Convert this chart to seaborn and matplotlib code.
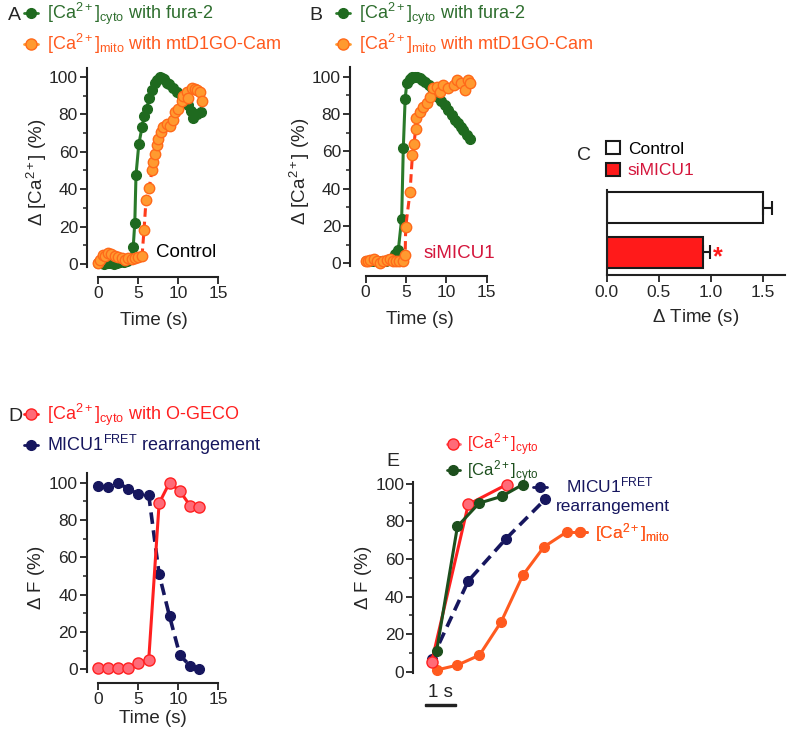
import matplotlib
matplotlib.use('Agg')
import matplotlib.pyplot as plt
from matplotlib.lines import Line2D
from matplotlib.patches import Patch
from matplotlib.ticker import MultipleLocator
from mpl_toolkits.axes_grid1.anchored_artists import AnchoredSizeBar
import seaborn as sns

# panel A, control cells (time in s, % of max)
a_cyto_t = [0.0, 0.4, 0.8, 1.2, 1.6, 2.0, 2.4, 2.8, 3.2, 3.6, 4.0, 4.4, 4.6, 4.75, 5.1, 5.5,
            5.75, 6.1, 6.4, 6.75, 7.1, 7.4, 7.7, 8.0, 8.3, 8.6, 8.9, 9.4, 9.9, 10.5, 11.2,
            11.6, 11.9, 12.4, 12.9]
a_cyto = [0.5, 0.3, 0.2, 0.5, 0.3, 0.2, 0.5, 1.0, 1.2, 1.5, 2.5, 9, 22, 47.6, 64, 73,
          79, 83, 89, 93, 97, 98.5, 100, 99.5, 99, 97, 96, 94, 92, 89, 85,
          82, 78, 80, 81]
a_mito_t = [0.0, 0.3, 0.6, 0.9, 1.25, 1.6, 2.1, 2.5, 3.0, 3.4, 3.75, 4.2, 4.6, 5.0, 5.5,
            5.75, 6.0, 6.4, 6.75, 6.9, 7.1, 7.4, 7.5, 7.9, 8.1, 8.6, 9.0, 9.4, 9.6, 10.0,
            10.5, 10.6, 11.1, 11.25, 11.7, 12.1, 12.4, 12.8, 13.0]
a_mito = [0.5, 2, 5, 4, 6, 5.5, 4, 3.5, 3, 2, 3, 2.5, 3, 3.5, 4,
          18, 34, 40.6, 50, 54.5, 59, 63.6, 67, 70.6, 73, 75, 74, 77, 81, 83,
          87, 90, 92, 89, 94, 93.5, 93, 92, 87]

# panel B, siMICU1 cells
b_cyto_t = [0.0, 0.5, 1.0, 1.5, 2.0, 2.5, 3.0, 3.6, 4.05, 4.47, 4.67, 4.9, 5.1, 5.5, 5.8,
            6.1, 6.4, 6.7, 7.0, 7.4, 7.8, 8.2, 8.6, 9.0, 9.4, 9.8, 10.2, 10.7, 11.1, 11.5,
            11.8, 12.1, 12.5, 12.9]
b_cyto = [1, 1, 1.5, 1, 1, 1.5, 2.5, 5, 7, 24, 61.6, 88, 96.5, 99, 100,
          100, 100, 99.5, 98.5, 97, 95.5, 94, 91.5, 89, 87, 85, 82, 79.5, 77, 75,
          73, 71.4, 69, 66.5]
b_mito_t = [0.0, 0.3, 0.6, 1.0, 1.4, 1.8, 2.2, 2.6, 3.0, 3.4, 3.8, 4.2, 4.6, 4.9, 4.97,
            5.5, 5.8, 6.0, 6.2, 6.3, 6.75, 7.15, 7.6, 8.0, 8.4, 8.8, 9.2, 9.6, 10.25, 10.9,
            11.3, 11.8, 12.3, 12.7, 12.9]
b_mito = [1.5, 1, 2, 2.5, 1, 0, 1.5, 2, 2.5, 1, 1.5, 1, 1.5, 4.4, 19.6,
          38, 58, 64, 72, 77.7, 81, 84, 85.7, 89, 93.8, 94.6, 92, 95.5, 93.8, 95.5,
          98, 96.5, 92.9, 98, 96.5]

# panel C, delay between cyto and mito rise
c_groups = ['Control', 'siMICU1']
c_mean = [1.50, 0.93]
c_sem = [0.09, 0.06]

# panel D, O-GECO vs MICU1 FRET
d_t = [0, 1.25, 2.5, 3.75, 5.0, 6.3, 7.6, 8.9, 10.2, 11.5, 12.6]
d_fret = [98, 97.5, 100, 96.5, 94, 93.5, 51, 28.5, 7.5, 1.8, 0]
d_cyto = [0.5, 0.5, 0.5, 0.5, 3.6, 5, 89, 100, 95.5, 87.5, 87]

# panel E, rising phases overlaid (s from onset)
e_slow_t = [0, 1.18, 2.42]
e_ogeco = [5.3, 89, 99.6]
e_fret_t = [0, 1.18, 2.4, 3.66]
e_fret = [6.5, 48.3, 70.8, 91.7]
e_fura_t = [0.16, 0.83, 1.53, 2.26, 2.94]
e_fura = [11.2, 77.3, 89.7, 93.3, 99.6]
e_mito_t = [0.16, 0.83, 1.54, 2.24, 2.94, 3.62, 4.35]
e_mito = [0.9, 3.5, 8.8, 26.5, 51.3, 66.4, 74.3]

GREEN, GREEN_LN, GREEN_TX = '#1f6a1f', '#2a7a2a', '#2e6e2e'
OR_FACE, OR_EDGE, OR_LN, OR_TX = '#ff9a30', '#ff6a1a', '#ff3c1c', '#ff5a1f'
RED, PINK = '#ff2020', '#ff6b78'
NAVY = '#16165e'
CRIMSON = '#d4163c'
BAR_RED = '#ff1a1a'
E_GREEN, E_ORANGE = '#1d4f1d', '#ff5a1f'

sns.set_style('ticks')
plt.rcParams['font.family'] = ['Liberation Sans', 'DejaVu Sans']
plt.rcParams['mathtext.fontset'] = 'custom'
plt.rcParams['mathtext.rm'] = 'Liberation Sans'
plt.rcParams['mathtext.it'] = 'Liberation Sans:italic'
plt.rcParams['mathtext.bf'] = 'Liberation Sans:bold'
plt.rcParams['mathtext.sf'] = 'Liberation Sans'

TICK_FS, LAB_FS, LEG_FS = 12.5, 13.5, 13

fig = plt.figure(figsize=(7.87, 7.35), dpi=100)
W, H = 787, 735


def px_axes(x0, x1, y0, y1):
    return fig.add_axes([x0 / W, 1 - y1 / H, (x1 - x0) / W, (y1 - y0) / H])


def prism(ax, xlim, ylim, ybounds, xbounds=None):
    ax.set_xlim(*xlim)
    ax.set_ylim(*ylim)
    sns.despine(ax=ax)
    ax.spines['left'].set_bounds(*ybounds)
    if xbounds:
        ax.spines['bottom'].set_bounds(*xbounds)
    for s in ax.spines.values():
        s.set_linewidth(1.5)
        s.set_color('#222222')
    ax.tick_params(direction='out', length=5, width=1.3, labelsize=TICK_FS, color='#222222', pad=1.5)
    ax.tick_params(which='minor', direction='out', length=3, width=1.1, color='#222222')
    ax.set_facecolor('none')


def trace(ax, t, y, line, face, edge, ms, ls='-', lw=2.2, mew=1.0):
    sns.lineplot(x=t, y=y, ax=ax, color=line, linestyle=ls, linewidth=lw, marker='o',
                 markersize=ms, markerfacecolor=face, markeredgecolor=edge,
                 markeredgewidth=mew, estimator=None, sort=False, clip_on=False)


def time_axes(ax, pad):
    ax.set_xticks([0, 5, 10, 15])
    ax.set_yticks(range(0, 101, 20))
    ax.yaxis.set_minor_locator(MultipleLocator(10))
    ax.set_xlabel('Time (s)', fontsize=LAB_FS, labelpad=pad)


def handle(line, face, edge, ms, ls='-'):
    return Line2D([], [], color=line, linestyle=ls, linewidth=2, marker='o', markersize=ms,
                  markerfacecolor=face, markeredgecolor=edge)


cyto_lbl = r'[Ca$^{2+}$]$_{\rm cyto}$'
mito_lbl = r'[Ca$^{2+}$]$_{\rm mito}$'

# ---------- A ----------
axA = px_axes(87, 220, 68, 277)
prism(axA, (-1.375, 15.25), (-7, 104.8), (-1.5, 104.8), (0, 15))
trace(axA, a_cyto_t, a_cyto, GREEN_LN, GREEN, GREEN, 7)
trace(axA, a_mito_t, a_mito, OR_LN, OR_FACE, OR_EDGE, 7.5, ls=(0, (2.8, 1.6)))
time_axes(axA, 8)
axA.set_ylabel(r'$\Delta$ [Ca$^{2+}$] (%)', fontsize=LAB_FS, labelpad=0)
axA.text(7.3, 6, 'Control', fontsize=LAB_FS, va='center', color='black')

# ---------- B ----------
axB = px_axes(350, 490, 67, 276)
prism(axB, (-1.93, 15.41), (-6.8, 105.2), (-1.5, 105.2), (0, 15))
trace(axB, b_cyto_t, b_cyto, GREEN_LN, GREEN, GREEN, 7)
trace(axB, b_mito_t, b_mito, OR_LN, OR_FACE, OR_EDGE, 7.5, ls=(0, (2.8, 1.6)))
time_axes(axB, 8)
axB.set_ylabel(r'$\Delta$ [Ca$^{2+}$] (%)', fontsize=LAB_FS, labelpad=0)
axB.text(7.15, 5.5, 'siMICU1', fontsize=LAB_FS, va='center', color=CRIMSON)

for ax, x0 in [(axA, 24), (axB, 336)]:
    ax.legend([handle(GREEN_LN, GREEN, GREEN, 7), handle(OR_FACE, OR_FACE, OR_EDGE, 8)],
              [cyto_lbl + ' with fura-2', mito_lbl + ' with mtD1GO-Cam'],
              loc='upper left', bbox_to_anchor=(x0 / W, 1 - 1 / H),
              bbox_transform=fig.transFigure, frameon=False, fontsize=LEG_FS,
              handlelength=0.8, handletextpad=0.5, labelspacing=0.25, borderpad=0,
              borderaxespad=0, labelcolor=[GREEN_TX, OR_TX])

# ---------- C ----------
axC = px_axes(606.7, 785, 190, 275)
sns.barplot(x=c_mean, y=c_groups, orient='h', hue=c_groups, palette=['white', BAR_RED],
            saturation=1, width=0.7, edgecolor='#1a1a1a', linewidth=1.5, ax=axC, legend=False)
axC.errorbar(c_mean, [0, 1], xerr=[[0, 0], c_sem], fmt='none', ecolor='#1a1a1a',
             elinewidth=1.5, capsize=5, capthick=1.5)
axC.set_xlim(0, 1.715)
axC.set_ylim(1.51, -0.4)
sns.despine(ax=axC)
for s in axC.spines.values():
    s.set_linewidth(1.5)
    s.set_color('#222222')
axC.set_yticks([])
axC.set_ylabel('')
axC.set_xticks([0, 0.5, 1.0, 1.5])
axC.set_xticklabels(['0.0', '0.5', '1.0', '1.5'])
axC.tick_params(direction='out', length=5, width=1.3, labelsize=TICK_FS, color='#222222', pad=2)
axC.set_xlabel(r'$\Delta$ Time (s)', fontsize=LAB_FS, labelpad=5)
axC.text(c_mean[1] + c_sem[1] + 0.03, 1.12, '*', color=BAR_RED, fontsize=18,
         fontweight='bold', va='center', ha='left')
axC.legend([Patch(facecolor='white', edgecolor='#1a1a1a', linewidth=1.5),
            Patch(facecolor=BAR_RED, edgecolor='#1a1a1a', linewidth=1.5)],
           c_groups, loc='upper left', bbox_to_anchor=(606 / W, 1 - 141 / H),
           bbox_transform=fig.transFigure, frameon=False, fontsize=12.5,
           handlelength=0.8, handleheight=0.8, handletextpad=0.45, labelspacing=0.35,
           borderpad=0, borderaxespad=0, labelcolor=['black', CRIMSON])

# ---------- D ----------
axD = px_axes(86.7, 220, 473, 683)
prism(axD, (-1.45, 15.21), (-7.34, 105.2), (-1.5, 105.2), (0, 15))
trace(axD, d_t, d_fret, NAVY, NAVY, NAVY, 7, ls=(0, (3.2, 1.8)), lw=2.6)
trace(axD, d_t, d_cyto, RED, PINK, RED, 8, lw=2.2)
time_axes(axD, 2)
axD.set_ylabel(r'$\Delta$ F (%)', fontsize=LAB_FS, labelpad=1)
axD.legend([handle(RED, PINK, RED, 8), handle(NAVY, NAVY, NAVY, 7)],
           [cyto_lbl + ' with O-GECO', r'MICU1$^{\rm FRET}$ rearrangement'],
           loc='upper left', bbox_to_anchor=(24 / W, 1 - 402 / H),
           bbox_transform=fig.transFigure, frameon=False, fontsize=LEG_FS,
           handlelength=0.8, handletextpad=0.5, labelspacing=0.25, borderpad=0,
           borderaxespad=0, labelcolor=[RED, NAVY])

# ---------- E ----------
axE = px_axes(413.3, 600, 481.7, 673.3)
prism(axE, (-0.594, 5.43), (-0.85, 101.1), (-0.85, 101.1))
axE.spines['bottom'].set_visible(False)
axE.set_xticks([])
axE.set_yticks(range(0, 101, 20))
axE.yaxis.set_minor_locator(MultipleLocator(10))
axE.set_ylabel(r'$\Delta$ F (%)', fontsize=LAB_FS, labelpad=1)
trace(axE, e_fret_t, e_fret, NAVY, NAVY, NAVY, 7, ls=(0, (3.2, 1.8)), lw=2.6)
trace(axE, e_mito_t, e_mito, E_ORANGE, E_ORANGE, E_ORANGE, 7, lw=2.2)
trace(axE, e_slow_t, e_ogeco, RED, PINK, RED, 8, lw=2.2)
trace(axE, e_fura_t, e_fura, E_GREEN, E_GREEN, E_GREEN, 7, lw=2.2)

scalebar = AnchoredSizeBar(axE.transData, 1, '1 s', loc='lower left',
                           bbox_to_anchor=(-0.22, -18.5), bbox_transform=axE.transData,
                           pad=0, borderpad=0, sep=2, frameon=False, label_top=True,
                           size_vertical=1.2, color='#222222',
                           fontproperties={'size': LAB_FS})
axE.add_artist(scalebar)

# in-plot series labels (GraphPad style)
cyto_tag = axE.legend([handle(PINK, PINK, RED, 8), handle(E_GREEN, E_GREEN, E_GREEN, 7)],
                      [cyto_lbl, cyto_lbl], loc='center left', bbox_to_anchor=(0.48, 113.7),
                      bbox_transform=axE.transData, frameon=False, fontsize=12,
                      handlelength=0.8, handletextpad=0.45, labelspacing=0.0, borderpad=0,
                      borderaxespad=0, labelcolor=[RED, E_GREEN])
axE.add_artist(cyto_tag)
tags = [
    (3.27, 99.0, r'MICU1$^{\rm FRET}$', NAVY, handle(NAVY, NAVY, NAVY, 7), 1.1),
    (4.56, 74.3, mito_lbl, E_ORANGE, handle(E_ORANGE, E_ORANGE, E_ORANGE, 7), 0.45),
]
for x, y, lbl, col, h, gap in tags:
    lg = axE.legend([h], [lbl], loc='center left', bbox_to_anchor=(x, y),
                    bbox_transform=axE.transData, frameon=False, fontsize=12.5,
                    handlelength=0.8, handletextpad=gap, borderpad=0, borderaxespad=0,
                    labelcolor=[col])
    axE.add_artist(lg)
axE.text(4.02, 88.0, 'rearrangement', color=NAVY, fontsize=12.5, ha='left', va='center')

# panel letters
for x, y, s in [(8, 15, 'A'), (309, 15, 'B'), (577, 155, 'C'), (8, 416, 'D'), (386, 462, 'E')]:
    fig.text(x / W, 1 - y / H, s, fontsize=14, va='center', ha='left')

fig.savefig('out.png', dpi=100)
